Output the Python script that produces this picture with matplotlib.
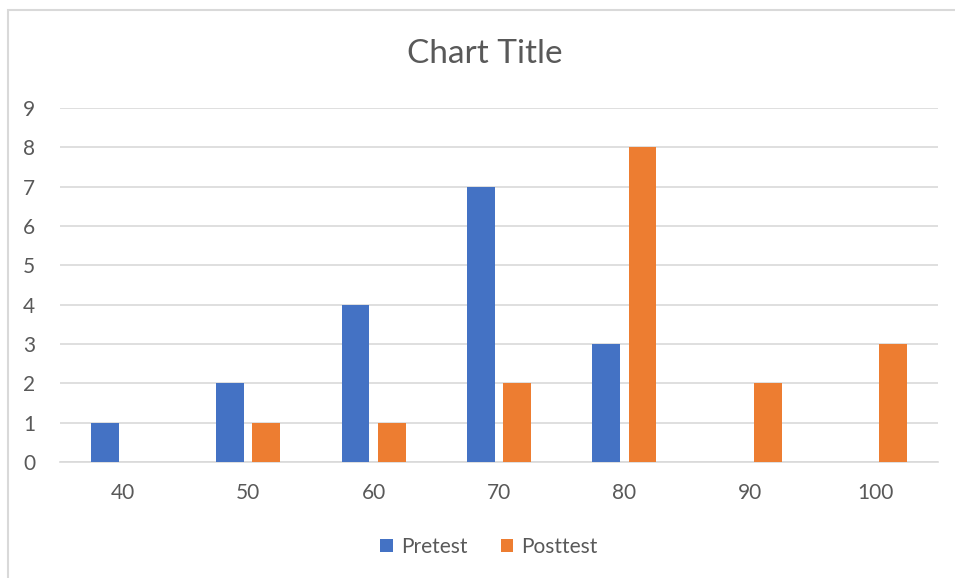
import matplotlib
matplotlib.use('Agg')
import numpy as np
import matplotlib.pyplot as plt
from matplotlib.patches import Rectangle

plt.rcParams['font.family'] = ['Lato', 'DejaVu Sans']

# data
scores = ['40', '50', '60', '70', '80', '90', '100']
pretest = [1, 2, 4, 7, 3, 0, 0]
posttest = [0, 1, 1, 2, 8, 2, 3]
yticks = list(range(0, 10))

BLUE = '#4472C4'
ORANGE = '#ED7D31'
GREY = '#595959'
GRID = '#D9D9D9'

fig = plt.figure(figsize=(9.55, 5.78), dpi=100)
# chart border (right/bottom fall outside the image)
fig.patches.append(Rectangle((7.5 / 955, -0.1), 1.2, 1 - 9.5 / 578 + 0.1,
                             transform=fig.transFigure, fill=False,
                             edgecolor=GRID, lw=1.5))

ax = fig.add_axes([60 / 955, 1 - 462 / 578, 878 / 955, 354 / 578])
x = np.arange(len(scores))
w = 0.223
off = 0.144
ax.bar(x - off, pretest, w, color=BLUE, label='Pretest', zorder=3)
ax.bar(x + off, posttest, w, color=ORANGE, label='Posttest', zorder=3)

ax.set_xlim(-0.5, len(scores) - 0.5)
ax.set_ylim(0, 9)
ax.set_yticks(yticks)
ax.set_xticks(x)
ax.set_xticklabels(scores)
ax.grid(axis='y', color=GRID, lw=1.2, zorder=0)
for s in ['top', 'right', 'left']:
    ax.spines[s].set_visible(False)
ax.spines['bottom'].set_color(GRID)
ax.spines['bottom'].set_linewidth(1.2)
ax.tick_params(length=0, labelsize=15, labelcolor=GREY)
ax.tick_params(axis='y', pad=18)
ax.tick_params(axis='x', pad=15)

fig.text(0.508, 1 - 54 / 578, 'Chart Title', ha='center', va='center',
         fontsize=24, color=GREY)

fig.legend(loc='center', bbox_to_anchor=(0.512, 1 - 547 / 578), ncol=2,
           frameon=False, fontsize=15, labelcolor=GREY, handlelength=0.6,
           handleheight=0.6, handletextpad=0.4, columnspacing=1.6)

fig.savefig('out.png', dpi=100)
